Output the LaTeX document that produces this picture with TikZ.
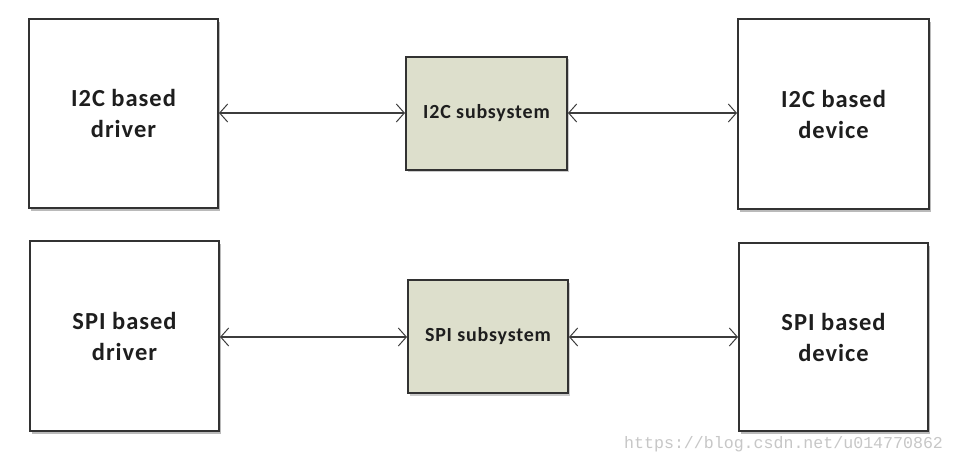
\documentclass[tikz,border=0pt]{standalone}
\usepackage{fontspec}
\setmainfont{Carlito}[LetterSpace=4]
\newfontfamily\wmfont{Liberation Mono}
\usetikzlibrary{arrows.meta,shadows}
\definecolor{subfill}{RGB}{221,223,204}
\definecolor{boxline}{RGB}{50,50,50}
\definecolor{arrline}{RGB}{60,60,60}
\definecolor{txt}{RGB}{30,30,30}
\tikzset{
  bigbox/.style={draw=boxline, line width=2pt, fill=white, inner sep=0pt,
    minimum width=189pt, minimum height=189pt, align=center, text=txt,
    font=\bfseries\fontsize{24.5}{31}\selectfont,
    drop shadow={shadow xshift=1.5pt, shadow yshift=-3pt, fill=black!45, opacity=0.6}},
  subbox/.style={draw=boxline, line width=2pt, fill=subfill, inner sep=0pt,
    minimum width=161pt, minimum height=113pt, align=center, text=txt,
    font=\bfseries\fontsize{20}{24}\selectfont,
    drop shadow={shadow xshift=1.5pt, shadow yshift=-2.5pt, fill=black!40, opacity=0.5}},
  link/.style={draw=arrline, line width=1.6pt,
    {Straight Barb[length=8pt,width=18pt,line width=1pt]}-{Straight Barb[length=8pt,width=18pt,line width=1pt]}},
}
\begin{document}
\begin{tikzpicture}[x=1pt,y=1pt]
\useasboundingbox (0,0) rectangle (955,464);
\fill[white] (0,0) rectangle (955,464);
\node[bigbox] (i2cdrv) at (123.5,350.5) {I2C based\\driver};
\node[subbox] (i2csub) at (486.5,350.5) {I2C subsystem};
\node[bigbox, minimum width=191pt, minimum height=190pt] (i2cdev) at (833.5,350) {I2C based\\device};
\node[bigbox, minimum height=190pt] (spidrv) at (124.5,128) {SPI based\\driver};
\node[subbox, minimum width=160pt] (spisub) at (488,127.5) {SPI subsystem};
\node[bigbox, minimum height=188pt] (spidev) at (833.5,127) {SPI based\\device};
\draw[link] (i2cdrv.east |- 0,351) -- (i2csub.west |- 0,351);
\draw[link] (i2csub.east |- 0,351) -- (i2cdev.west |- 0,351);
\draw[link] (spidrv.east |- 0,127) -- (spisub.west |- 0,127);
\draw[link] (spisub.east |- 0,127) -- (spidev.west |- 0,127);
\node[anchor=base west, inner sep=0pt, text=black!22, font=\wmfont\fontsize{16.6}{18}\selectfont] (wm) at (624,16) {https://blog.csdn.net/u014770862};
\end{tikzpicture}
\end{document}
